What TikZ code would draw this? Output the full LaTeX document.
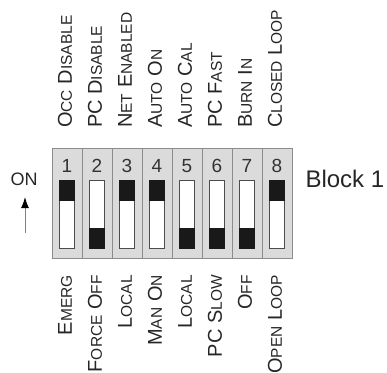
\documentclass[tikz,border=0pt]{standalone}
\usepackage{fontspec}
\setmainfont{Liberation Sans}
\usetikzlibrary{positioning}
\usetikzlibrary{calc}
\usetikzlibrary{arrows.meta}
\definecolor{panel}{gray}{0.86}
\definecolor{edge}{gray}{0.55}
\newcommand{\lsc}[1]{{\fontsize{15.5}{16}\selectfont #1}}
\tikzset{col/.style={draw=edge,fill=panel,line width=0.8pt,minimum width=30pt,minimum height=110pt,inner sep=0pt},
slot/.style={draw=black!70,fill=white,line width=0.6pt,minimum width=15pt,minimum height=68pt,inner sep=0pt},
knob/.style={draw=black!90,fill=black!90,line width=0.6pt,minimum width=15pt,minimum height=20pt,inner sep=0pt},
num/.style={font=\fontsize{19}{19}\selectfont,text=black!80},
lbl/.style={rotate=90,font=\fontsize{20}{20}\selectfont,text=black!85,inner sep=0pt}}

\begin{document}
\begin{tikzpicture}[x=1pt,y=-1pt]
\useasboundingbox (0,0) rectangle (387,372);

% switch block
\foreach \i/\pos in {1/north,2/south,3/north,4/north,5/south,6/south,7/south,8/north}
{
\node (c\i) [col] at (37+30*\i,203) {};
\node (n\i) [num] at (37+30*\i,166) {\i};
\node (s\i) [slot] at (37+30*\i,214) {};
\node (k\i) [knob,anchor=\pos] at (s\i.\pos) {};
}

% labels on top
\foreach \i/\t in {1/{O\lsc{CC} D\lsc{ISABLE}},2/{PC D\lsc{ISABLE}},3/{N\lsc{ET} E\lsc{NABLED}},4/{A\lsc{UTO} O\lsc{N}},5/{A\lsc{UTO} C\lsc{AL}},6/{PC F\lsc{AST}},7/{B\lsc{URN} I\lsc{N}},8/{C\lsc{LOSED} L\lsc{OOP}}}
\node (t\i) [lbl,anchor=west] at (35+30*\i,128) {\t};

% labels below
\foreach \i/\t in {1/{E\lsc{MERG}},2/{F\lsc{ORCE} O\lsc{FF}},3/{L\lsc{OCAL}},4/{M\lsc{AN} O\lsc{N}},5/{L\lsc{OCAL}},6/{PC S\lsc{LOW}},7/{O\lsc{FF}},8/{O\lsc{PEN} L\lsc{OOP}}}
\node (b\i) [lbl,anchor=east] at (35+30*\i,275) {\t};

\node (on) [font=\fontsize{18}{18}\selectfont,text=black!85] at (24,179) {ON};
\coordinate (a0) at (25,233);
\coordinate (a1) at (25,197);
\draw[gray,line width=1pt,-{Latex[black,length=11pt,width=8pt]}] (a0) -- (a1);

\node (blk) [anchor=west,font=\fontsize{24}{24}\selectfont,text=black!85] at (302,179) {Block 1};
\end{tikzpicture}
\end{document}
